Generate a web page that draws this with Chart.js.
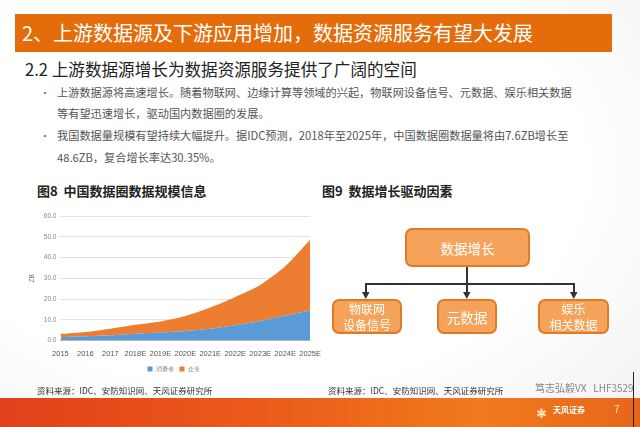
<!DOCTYPE html>
<html>
<head>
<meta charset="utf-8">
<script src="https://cdn.jsdelivr.net/npm/chart.js@4"></script>
<style>
  html, body { margin: 0; padding: 0; }
  body {
    width: 640px; height: 427px; position: relative; overflow: hidden;
    background: radial-gradient(ellipse at 40% 40%, #ffffff 60%, #f1f1f1 100%);
    font-family: "Noto Sans CJK SC", "Noto Sans", sans-serif;
  }
  .abs { position: absolute; white-space: nowrap; }
  #topbar {
    left: 15px; top: 14px; width: 597px; height: 38px;
    background: #e46c0a; color: #fff; font-size: 20px; line-height: 38px;
    padding-left: 7px; box-sizing: border-box;
  }
  #sub { left: 25px; top: 57px; font-size: 16.6px; color: #222; }
  .bul { font-size: 11.2px; color: #555; }
  .dot { font-size: 10px; color: #666; }
  .ftitle { font-size: 13px; font-weight: bold; color: #222; }
  .src { font-size: 8.5px; color: #333; }
  #chartbox { left: 24px; top: 204px; width: 299px; height: 178px; }
  .box {
    position: absolute; background: #f5a35a; border: 2px solid #e07a26;
    border-radius: 7px; color: #fff; text-align: center; box-sizing: border-box;
    display: flex; align-items: center; justify-content: center;
    font-size: 13.5px; line-height: 18px;
  }
  .box.two { font-size: 12px; line-height: 16px; }
  .ln { position: absolute; background: #333; }
  #bottom {
    left: 0; top: 398px; width: 640px; height: 29px;
    background: linear-gradient(90deg, #e2401a 0%, #ea5a1a 40%, #f07a1c 75%, #e8661a 100%);
  }
</style>
</head>
<body>
<div id="topbar" class="abs">2、上游数据源及下游应用增加，数据资源服务有望大发展</div>
<div id="sub" class="abs">2.2 上游数据源增长为数据资源服务提供了广阔的空间</div>

<div class="abs dot" style="left:40px;top:85px;">•</div>
<div class="abs bul" style="left:57px;top:84px;">上游数据源将高速增长。随着物联网、边缘计算等领域的兴起，物联网设备信号、元数据、娱乐相关数据</div>
<div class="abs bul" style="left:57px;top:105px;">等有望迅速增长，驱动国内数据圈的发展。</div>
<div class="abs dot" style="left:40px;top:128px;">•</div>
<div class="abs bul" style="left:57px;top:127px;">我国数据量规模有望持续大幅提升。据IDC预测，2018年至2025年，中国数据圈数据量将由7.6ZB增长至</div>
<div class="abs bul" style="left:57px;top:149px;">48.6ZB，复合增长率达30.35%。</div>

<div class="abs ftitle" style="left:37px;top:181px;">图8&nbsp;&nbsp;中国数据圈数据规模信息</div>
<div class="abs ftitle" style="left:322px;top:181px;">图9&nbsp;&nbsp;数据增长驱动因素</div>

<div id="chartbox" class="abs"><canvas id="c"></canvas></div>

<!-- 图9 diagram -->
<div class="box" style="left:405px;top:228px;width:125px;height:39px;">数据增长</div>
<div class="ln" style="left:466px;top:267px;width:1.5px;height:26px;"></div>
<div class="ln" style="left:365px;top:283px;width:210px;height:1.5px;"></div>
<div class="ln" style="left:365px;top:283px;width:1.5px;height:10px;"></div>
<div class="ln" style="left:573px;top:283px;width:1.5px;height:10px;"></div>
<svg class="abs" style="left:0;top:0;" width="640" height="427">
  <polygon points="362,292 369.5,292 365.8,299" fill="#333"/>
  <polygon points="463,292 470.5,292 466.8,299" fill="#333"/>
  <polygon points="570,292 577.5,292 573.8,299" fill="#333"/>
</svg>
<div class="box two" style="left:332px;top:299px;width:70px;height:35px;">物联网<br>设备信号</div>
<div class="box" style="left:437px;top:299px;width:60px;height:35px;">元数据</div>
<div class="box two" style="left:538px;top:299px;width:71px;height:35px;">娱乐<br>相关数据</div>

<div class="abs src" style="left:37px;top:384px;">资料来源：IDC、安防知识网、天风证券研究所</div>
<div class="abs src" style="left:328px;top:384px;">资料来源：IDC、安防知识网、天风证券研究所</div>
<div class="abs" style="left:535px;top:380px;font-size:10px;color:#888;">笃志弘毅VX&nbsp;&nbsp;&nbsp;LHF3529</div>

<div id="bottom" class="abs"></div>
<div class="abs" style="left:553px;top:404px;font-size:8px;color:#fff;font-weight:bold;">天风证券</div>
<div class="abs" style="left:536px;top:403px;font-size:13px;color:#ffe0b0;">✱</div>
<div class="abs" style="left:614px;top:401px;font-size:10px;color:#ffe9c0;">7</div>
<div class="abs" style="left:633px;top:372px;width:1px;height:55px;background:#222;"></div>

<script>
// 中国数据圈数据规模 (ZB)
const years = ['2015', '2016', '2017', '2018E', '2019E', '2020E', '2021E', '2022E', '2023E', '2024E', '2025E'];
const consumer = [1.6, 2.0, 2.5, 3.3, 3.9, 4.6, 5.7, 7.4, 9.4, 12.0, 14.5];
const enterprise = [1.5, 2.1, 3.2, 4.3, 5.3, 7.2, 10.2, 13.6, 17.4, 23.8, 34.1];
const seriesNames = ['消费者', '企业'];
const yTicks = [0, 10, 20, 30, 40, 50, 60];

const colours = ['#5b9bd5', '#ed7d31'];

var datasets = [
    { label: seriesNames[0], data: consumer, backgroundColor: colours[0], borderColor: colours[0], fill: 'origin' },
    { label: seriesNames[1], data: enterprise, backgroundColor: colours[1], borderColor: colours[1], fill: '-1' }
];
datasets.forEach(function (d) {
    d.pointRadius = 0;
    d.borderWidth = 0;
    d.tension = 0.25;
});

var chart = new Chart(document.getElementById('c'), {
    type: 'line',
    data: { labels: years, datasets: datasets },
    options: {
        responsive: true,
        maintainAspectRatio: false,
        animation: false,
        layout: { padding: { left: 0, right: 0, top: 12, bottom: 0 } },
        plugins: {
            legend: {
                position: 'bottom',
                labels: { boxWidth: 5, boxHeight: 5, font: { size: 6 }, color: '#777', padding: 6 }
            },
            tooltip: { enabled: false }
        },
        scales: {
            x: {
                offset: false,
                grid: { display: false },
                border: { color: '#bbb' },
                ticks: { font: { size: 7.5, lineHeight: 1 }, color: '#555', maxRotation: 0, autoSkip: false, padding: 2 }
            },
            y: {
                stacked: true,
                min: yTicks[0],
                max: yTicks[yTicks.length - 1],
                afterBuildTicks: function (axis) { axis.ticks = yTicks.map(function (v) { return { value: v }; }); },
                grid: { color: '#e2e2e2', drawTicks: false },
                border: { display: false },
                title: { display: true, text: 'ZB', font: { size: 6.5 }, color: '#777', padding: 4 },
                ticks: {
                    font: { size: 6.5 }, color: '#888', padding: 4,
                    callback: function (v) { return Number(v).toFixed(1); }
                }
            }
        }
    }
});
</script>
</body>
</html>
